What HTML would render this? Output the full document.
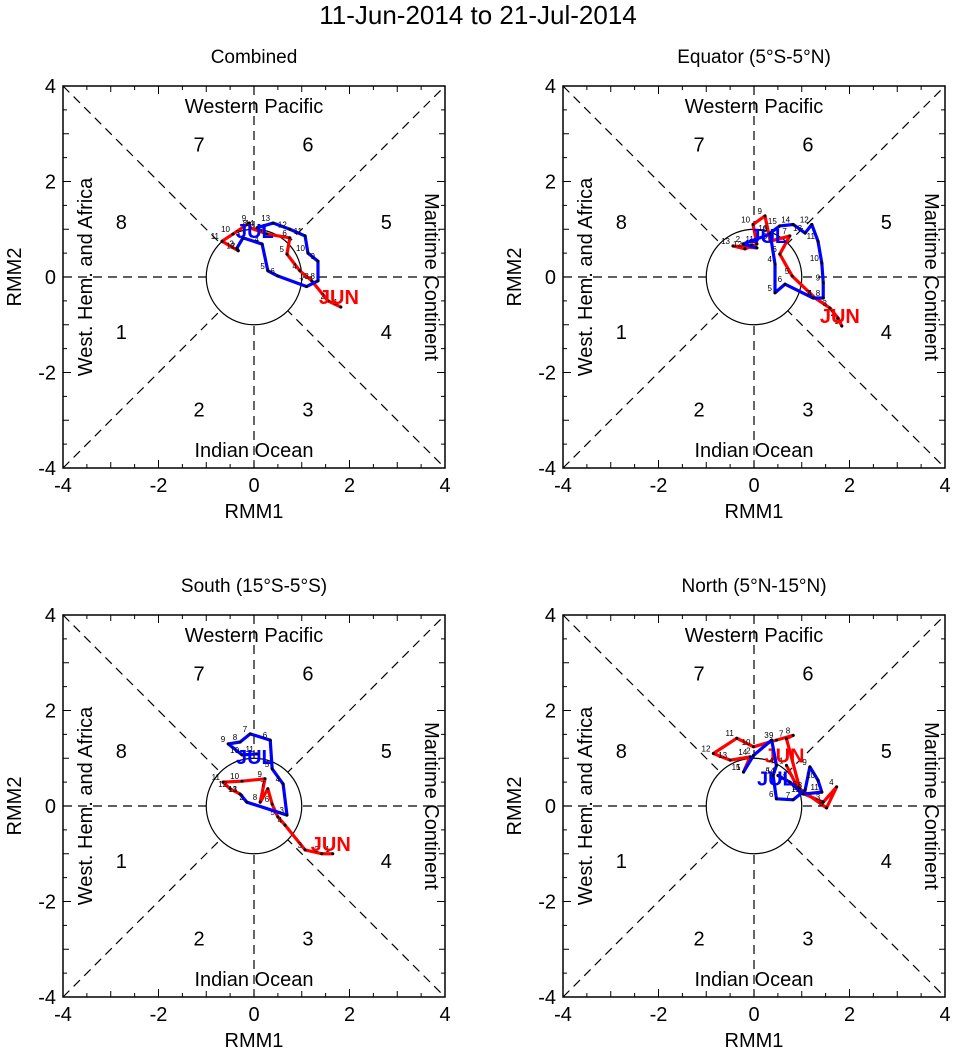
<!DOCTYPE html>
<html><head><meta charset="utf-8"><style>
body{margin:0;background:#fff}
svg{display:block;font-family:"Liberation Sans",Arial,sans-serif}
</style></head><body>
<svg id="c" width="956" height="1057" xmlns="http://www.w3.org/2000/svg">
<text x="478" y="24" text-anchor="middle" font-size="26">11-Jun-2014 to 21-Jul-2014</text>
</svg>
<script>
const panelTitles=["Combined","Equator (5°S-5°N)","South (15°S-5°S)","North (5°N-15°N)"];
const tickValues=[-4,-2,0,2,4];
const redX=[
[1.82,1.55,1.21,0.96,0.69,0.75,0.27,-0.08,-0.1,-0.44,-0.67,-0.33],
[1.84,1.76,1.59,1.28,0.8,0.54,0.75,0.34,0.23,-0.02,0.06,-0.19,-0.44,0.06],
[1.65,1.42,1.07,0.65,0.5,0.38,0.29,0.13,0.23,-0.25,-0.65,-0.5,-0.29],
[0.68,0.96,1.45,1.73,1.52,0.96,0.68,0.82,0.47,-0.01,-0.36,-0.85,-0.5,-0.08,-0.22]];
const redY=[
[-0.63,-0.5,-0.08,0.13,0.48,0.82,0.9,1.03,1.13,0.9,0.75,0.55],
[-1.03,-0.86,-0.65,-0.44,0.02,0.48,0.86,0.75,1.28,1.1,0.69,0.59,0.65,0.61],
[-1.0,-1.0,-0.92,-0.4,-0.23,0.04,0.36,0.08,0.57,0.52,0.5,0.36,0.25],
[0.85,0.29,0.08,0.4,-0.04,0.36,1.41,1.48,1.38,1.24,1.42,1.1,0.96,1.03,0.71]];
const blueX=[
[-0.33,-0.36,-0.23,0.17,0.29,0.5,1.1,1.34,1.34,1.13,1.07,0.75,0.4,0.06],
[0.06,-0.23,0.34,0.44,0.44,0.65,1.24,1.45,1.45,1.42,1.34,1.21,1.07,0.82,0.54,0.34],
[-0.29,-0.15,0.69,0.61,0.38,0.34,-0.08,-0.29,-0.54,-0.25,0.06],
[-0.22,-0.01,0.37,0.47,0.4,0.47,0.82,1.07,1.17,1.34,1.42,1.03,0.75,0.5]];
const blueY=[
[0.55,0.6,0.82,0.69,0.13,0.02,-0.2,-0.08,0.33,0.5,0.86,1.0,1.13,1.03],
[0.61,0.69,0.9,0.27,-0.33,-0.15,-0.44,-0.44,-0.12,0.29,0.75,1.1,0.92,1.1,1.07,0.92],
[0.25,0.08,-0.19,0.46,0.78,1.38,1.51,1.34,1.3,1.07,1.09],
[0.71,1.06,1.38,0.85,0.64,0.15,0.13,0.33,0.82,0.54,0.29,0.25,0.5,0.64]];
const NS="http://www.w3.org/2000/svg",svg=document.getElementById('c');
function el(t,a,p,txt){const e=document.createElementNS(NS,t);for(const k in a)e.setAttribute(k,a[k]);if(txt!==undefined)e.textContent=txt;(p||svg).appendChild(e);return e;}
const S=47.75;
const origins=[[63,86],[563,86],[63,615],[563,615]];
origins.forEach((o,i)=>{
 const g=el('g',{});
 
 
 const L=o[0],T=o[1],W=8*S,cx=L+4*S,cy=T+4*S;
 const sx=v=>cx+v*S, sy=v=>cy-v*S;
 const t=el('text',{x:cx,y:T-23,'text-anchor':'middle','font-size':19},g,panelTitles[i]);
 
 const da={stroke:'#000','stroke-width':1.2,'stroke-dasharray':'9,6'};
 el('line',Object.assign({x1:L,y1:cy,x2:L+W,y2:cy},da),g);
 el('line',Object.assign({x1:cx,y1:T,x2:cx,y2:T+W},da),g);
 el('line',Object.assign({x1:L,y1:T,x2:L+W,y2:T+W},da),g);
 el('line',Object.assign({x1:L,y1:T+W,x2:L+W,y2:T},da),g);
 const c=el('circle',{cx:cx,cy:cy,r:S,fill:'#fff',stroke:'#000','stroke-width':1.2},g);
 
 el('rect',{x:L,y:T,width:W,height:W,fill:'none',stroke:'#000','stroke-width':1.5},g);
 for(let v=-4;v<=4;v+=0.5){const maj=Number.isInteger(v/2)?8:(Number.isInteger(v)?6:4);
  el('line',{x1:sx(v),y1:T+W,x2:sx(v),y2:T+W-maj,stroke:'#000'},g);
  el('line',{x1:sx(v),y1:T,x2:sx(v),y2:T+maj,stroke:'#000'},g);
  el('line',{x1:L,y1:sy(v),x2:L+maj,y2:sy(v),stroke:'#000'},g);
  el('line',{x1:L+W,y1:sy(v),x2:L+W-maj,y2:sy(v),stroke:'#000'},g);}
 tickValues.forEach(v=>{
  el('text',{x:sx(v),y:T+W+24,'text-anchor':'middle','font-size':20},g,String(v));
  el('text',{x:L-7,y:sy(v)+7,'text-anchor':'end','font-size':20},g,String(v));});
 const xl=el('text',{x:cx,y:T+W+50,'text-anchor':'middle','font-size':20},g,'RMM1');
 
 const yl=el('text',{x:0,y:0,'text-anchor':'middle','font-size':20,transform:`translate(${L-42},${cy}) rotate(-90)`},g,'RMM2');
 
 el('text',{x:cx,y:T+27,'text-anchor':'middle','font-size':20},g,'Western Pacific');
 el('text',{x:cx,y:T+W-11,'text-anchor':'middle','font-size':20},g,'Indian Ocean');
 el('text',{x:0,y:0,'text-anchor':'middle','font-size':20,transform:`translate(${L+29},${cy}) rotate(-90)`},g,'West. Hem. and Africa');
 el('text',{x:0,y:0,'text-anchor':'middle','font-size':20,transform:`translate(${L+W-20},${cy}) rotate(90)`},g,'Maritime Continent');
 const ph=[['7',-1.15,2.77],['6',1.13,2.77],['8',-2.78,1.15],['5',2.77,1.15],['1',-2.78,-1.15],['4',2.77,-1.15],['2',-1.15,-2.77],['3',1.13,-2.77]];
 ph.forEach(p=>el('text',{x:sx(p[1]),y:sy(p[2])+7,'text-anchor':'middle','font-size':20},g,p[0]));
 [[redX[i],redY[i],'#f00','red-june-track','JUN'],[blueX[i],blueY[i],'#00f','blue-july-track','JUL']].forEach(s=>{
  const pts=s[0].map((x,k)=>sx(x)+','+sy(s[1][k])).join(' ');
  const pl=el('polyline',{points:pts,fill:'none',stroke:s[2],'stroke-width':3.2,'stroke-linejoin':'round'},g);
  
  s[0].forEach((x,k)=>{el('circle',{cx:sx(x),cy:sy(s[1][k]),r:1.5,fill:'#000'},g);
   el('text',{x:sx(x)-3,y:sy(s[1][k])-2,'text-anchor':'end','font-size':8},g,String(k+1));});
  const lb=s[4]=='JUN'?0:s[0].length-1;
  const lt=el('text',{x:sx(s[0][lb])-2,y:sy(s[1][lb])+(s[4]=='JUN'?-3:10),'text-anchor':'middle','font-size':20,'font-weight':'bold',fill:s[2]},g,s[4]);
  
 });
});
</script>
</body></html>
